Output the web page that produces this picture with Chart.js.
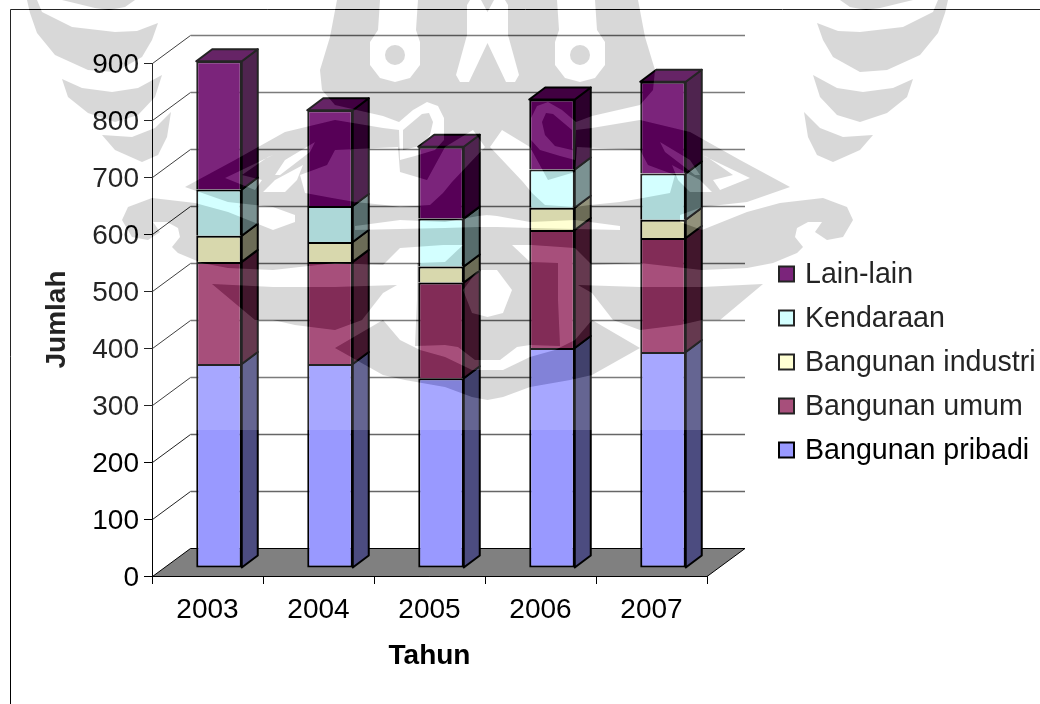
<!DOCTYPE html>
<html>
<head>
<meta charset="utf-8">
<title>Jumlah per tahun</title>
<script src="https://cdn.jsdelivr.net/npm/chart.js@4/dist/chart.umd.min.js"></script>
<style>
  html, body { margin: 0; padding: 0; background: #fff; }
  #wrap { width: 1040px; height: 704px; }
</style>
</head>
<body>
<div id="wrap"><canvas id="grafik" width="1040" height="704"></canvas></div>
<script>
var years = ['2003', '2004', '2005', '2006', '2007'];
var bangunanPribadi = [358, 358, 333, 386, 379];
var bangunanUmum = [179, 179, 168, 207, 200];
var bangunanIndustri = [46, 35, 28, 39, 32];
var kendaraan = [81, 63, 84, 67, 81];
var lainLain = [225, 168, 126, 123, 161];
var yMax = 900;
var yStep = 100;

var FONT = '"Liberation Sans", Arial, sans-serif';

// depth of the fake 3d box
var WALL_DX = 38, WALL_DY = 28;
var BAR_DX = 11.5, BAR_DY = 8;
var SIDE_DX = 16, SIDE_DY = 12;

// bottom edge only on the lowest series, otherwise shared edges get doubled
function series(label, data, front, side, bottomEdge) {
  return {
    label: label, data: data, side: side,
    backgroundColor: front, borderColor: '#000',
    borderWidth: { top: 2, left: 2, right: 2, bottom: bottomEdge },
    borderSkipped: false, clip: false,
    barPercentage: 0.41, categoryPercentage: 1
  };
}

// ---- university emblem behind the page, symmetric around x = 487.5 ----
var AXIS = 487.5;
var emblemParts = [
  // head, wings and swirl
  [[487.5,0],[638,0],[645,37],[655,70],[653,90],[640,105],[592,116],[576,122],[576,130],[592,128],[640,120],
   [690,132],[740,160],[790,187],[747,202],[702,207],[680,215],[680,222],[702,230],[747,212],[780,203],[823,198],
   [847,207],[853,220],[843,237],[827,240],[815,232],[822,222],[808,222],[797,228],[795,237],[803,247],[797,253],
   [773,263],[747,268],[702,270],[640,263],[592,265],[575,248],[532,245],[512,245],[530,262],[558,263],[558,300],
   [560,346],[530,345],[517,347],[500,360],[487.5,360]],
  // lower feather
  [[578,285],[640,287],[702,287],[763,284],[720,320],[702,320],[680,325],[640,330],[613,320],[592,293]],
  // bottom crescent
  [[592,320],[640,348],[592,375],[570,380],[530,387],[503,397],[487.5,400],[487.5,370],[503,370],[530,357],[555,350],[575,340]],
  // three crescents on the side
  [[840,0],[913,0],[880,8],[866,10],[850,7]],
  [[817,23],[838,31],[860,32],[903,27],[933,12],[938,0],[948,0],[945,13],[938,33],[920,55],[887,70],[860,72],[833,57],[823,40]],
  [[813,75],[837,88],[863,92],[893,88],[913,79],[907,97],[887,113],[860,122],[837,115],[820,97]],
  [[804,112],[820,128],[843,137],[873,135],[860,150],[833,162],[817,155],[808,137]],
  // cut-outs: eye with stem, centre fork, hook and its core, open field, wing stripes, blob, streak
  [[557,0],[595,0],[597,30],[605,42],[605,65],[595,78],[580,82],[565,78],[555,65],[555,42],[559,30]],
  [[494,0],[505,0],[508,5],[508,35],[519,75],[515,82],[506,82],[487.5,43],[487.5,12]],
  [[576,122],[562,110],[548,102],[537,106],[531,118],[531,140],[540,150],[560,156],[575,160],[576,130]],
  [[546,113],[553,114],[572,130],[572,150],[555,146],[545,135],[542,122]],
  [[490,147],[502,130],[530,147],[548,180],[575,172],[577,147],[640,150],[648,165],[675,175],[670,193],[643,198],
   [620,202],[590,205],[575,207],[545,205],[532,193],[523,182]],
  [[702,155],[750,178],[720,190],[713,180],[733,175],[707,157]],
  [[660,142],[690,160],[700,175],[695,175],[665,152]],
  [[672,165],[700,180],[712,192],[690,192],[678,180]],
  [[487.5,270],[497,270],[512,290],[503,313],[487.5,317]],
  [[487.5,215],[497,216],[530,222],[575,220],[620,226],[620,230],[575,229],[530,228],[497,227],[487.5,227]]
];

function addEmblem(path) {
  emblemParts.forEach(function (pts) {
    [1, -1].forEach(function (dir) {
      pts.forEach(function (p, i) {
        var x = AXIS + dir * (p[0] - AXIS);
        if (i === 0) path.moveTo(x, p[1]); else path.lineTo(x, p[1]);
      });
      path.closePath();
    });
  });
  // pupils of the two eyes
  [580, 2 * AXIS - 580].forEach(function (cx) {
    path.moveTo(cx + 10, 55);
    path.arc(cx, 55, 10, 0, Math.PI * 2);
    path.closePath();
  });
}

// ---- plugins ----
var boxPlugin = {
  id: 'box3d',
  beforeDraw: function (chart) {
    var ctx = chart.ctx;
    ctx.save();
    ctx.fillStyle = '#fff';
    ctx.fillRect(0, 0, chart.width, chart.height);
    // page frame
    ctx.strokeStyle = '#000';
    ctx.lineWidth = 1;
    ctx.beginPath();
    ctx.moveTo(10.5, chart.height);
    ctx.lineTo(10.5, 9.5);
    ctx.lineTo(chart.width, 9.5);
    ctx.stroke();
    ctx.restore();
  },
  beforeDatasetsDraw: function (chart) {
    var ctx = chart.ctx, y = chart.scales.y, area = chart.chartArea;
    var left = area.left + 0.5, right = area.right;
    ctx.save();
    // walls
    for (var v = yStep; v <= yMax; v += yStep) {
      var py = Math.round(y.getPixelForValue(v)) + 0.5;
      ctx.lineWidth = 1;
      ctx.strokeStyle = '#222';
      ctx.beginPath();
      ctx.moveTo(left, py);
      ctx.lineTo(left + WALL_DX, py - WALL_DY);
      ctx.stroke();
      ctx.strokeStyle = '#666';
      ctx.lineWidth = 1.5;
      ctx.beginPath();
      ctx.moveTo(left + WALL_DX, py - WALL_DY);
      ctx.lineTo(right + WALL_DX, py - WALL_DY);
      ctx.stroke();
    }
    // floor
    var y0 = Math.round(y.getPixelForValue(0)) + 0.5;
    ctx.fillStyle = '#808080';
    ctx.strokeStyle = '#000';
    ctx.lineWidth = 1;
    ctx.beginPath();
    ctx.moveTo(left, y0);
    ctx.lineTo(right, y0);
    ctx.lineTo(right + WALL_DX, y0 - WALL_DY);
    ctx.lineTo(left + WALL_DX, y0 - WALL_DY);
    ctx.closePath();
    ctx.fill();
    ctx.stroke();
    ctx.restore();

    // bars sit a little behind the front plane, the shift is undone after they are drawn
    ctx.save();
    ctx.translate(BAR_DX, -BAR_DY);
    ctx.strokeStyle = '#000';
    ctx.lineWidth = 2;
    ctx.lineJoin = 'round';
    chart.data.datasets.forEach(function (ds, di) {
      chart.getDatasetMeta(di).data.forEach(function (bar) {
        var r = bar.x + bar.width / 2, l = bar.x - bar.width / 2;
        ctx.fillStyle = ds.side;
        ctx.beginPath();
        ctx.moveTo(r, bar.base);
        ctx.lineTo(r + SIDE_DX, bar.base - SIDE_DY);
        ctx.lineTo(r + SIDE_DX, bar.y - SIDE_DY);
        ctx.lineTo(r, bar.y);
        ctx.closePath();
        ctx.fill();
        ctx.stroke();
        // only the top series shows its lid
        if (di === chart.data.datasets.length - 1) {
          ctx.fillStyle = '#4d004d';
          ctx.beginPath();
          ctx.moveTo(l, bar.y);
          ctx.lineTo(l + SIDE_DX, bar.y - SIDE_DY);
          ctx.lineTo(r + SIDE_DX, bar.y - SIDE_DY);
          ctx.lineTo(r, bar.y);
          ctx.closePath();
          ctx.fill();
          ctx.stroke();
        }
      });
    });
  },
  afterDatasetsDraw: function (chart) {
    chart.ctx.restore();
  },
  afterDraw: function (chart) {
    var ctx = chart.ctx;
    // legend, last series on top
    ctx.save();
    ctx.font = '28.6px ' + FONT;
    ctx.textBaseline = 'middle';
    ctx.textAlign = 'left';
    var rows = chart.data.datasets.slice().reverse();
    rows.forEach(function (ds, i) {
      var rowY = 274 + i * 44;
      ctx.fillStyle = ds.backgroundColor;
      ctx.strokeStyle = '#000';
      ctx.lineWidth = 2;
      ctx.fillRect(779, rowY - 7.5, 15, 15);
      ctx.strokeRect(779, rowY - 7.5, 15, 15);
      ctx.fillStyle = '#000';
      ctx.fillText(ds.label, 805, rowY + 1);
    });
    ctx.restore();

    // emblem wash over the top part of the page
    var washH = 430;
    var emblem = new Path2D();
    addEmblem(emblem);
    var outside = new Path2D();
    outside.rect(0, 0, chart.width, washH);
    addEmblem(outside);
    ctx.save();
    ctx.fillStyle = 'rgba(255,255,255,0.14)';
    ctx.fill(outside, 'evenodd');
    ctx.globalCompositeOperation = 'multiply';
    ctx.fillStyle = '#d8d8d8';
    ctx.fill(emblem, 'evenodd');
    ctx.restore();
  }
};

new Chart(document.getElementById('grafik'), {
  type: 'bar',
  data: {
    labels: years,
    datasets: [
      series('Bangunan pribadi', bangunanPribadi, '#9999ff', '#4c4c80', 2),
      series('Bangunan umum', bangunanUmum, '#993366', '#4c1933', 0),
      series('Bangunan industri', bangunanIndustri, '#ffffcc', '#808066', 0),
      series('Kendaraan', kendaraan, '#ccffff', '#668080', 0),
      series('Lain-lain', lainLain, '#660066', '#330033', 0)
    ]
  },
  options: {
    responsive: false,
    animation: false,
    events: [],
    layout: { padding: { left: 35, top: 63, right: 333, bottom: 0 } },
    plugins: { legend: { display: false }, tooltip: { enabled: false } },
    scales: {
      x: {
        stacked: true,
        afterFit: function (scale) { scale.height = 128; },
        grid: { drawOnChartArea: false, tickLength: 8, color: '#000' },
        border: { display: true, color: '#000' },
        ticks: { color: '#000', font: { family: FONT, size: 28 }, padding: 9, maxRotation: 0 },
        title: {
          display: true, text: 'Tahun', color: '#000',
          font: { family: FONT, size: 28, weight: 'bold' },
          padding: { top: 0, bottom: 31 }
        }
      },
      y: {
        stacked: true,
        min: 0,
        max: yMax,
        afterFit: function (scale) { scale.width = 117; },
        grid: { drawOnChartArea: false, tickLength: 8, color: '#000' },
        border: { display: true, color: '#000' },
        ticks: {
          stepSize: yStep, autoSkip: false, color: '#000', labelOffset: 2,
          font: { family: FONT, size: 28 }, padding: 5
        },
        title: {
          display: true, text: 'Jumlah', color: '#000',
          font: { family: FONT, size: 28, weight: 'bold' },
          padding: { top: 5, bottom: 0 }
        }
      }
    }
  },
  plugins: [boxPlugin]
});
</script>
</body>
</html>
